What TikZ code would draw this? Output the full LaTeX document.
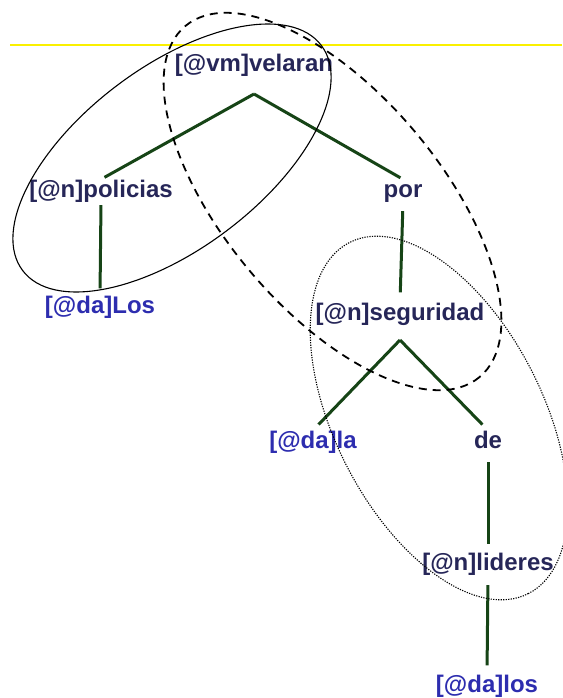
\documentclass[tikz,border=0pt]{standalone}
\usepackage{fontspec}
\setmainfont{Liberation Sans}
\definecolor{nodeink}{RGB}{38,38,88}
\definecolor{detink}{RGB}{45,45,175}
\definecolor{branchgreen}{RGB}{22,68,22}
\definecolor{guideyellow}{RGB}{250,240,0}
\begin{document}
\begin{tikzpicture}[x=1pt,y=-1pt,
  word/.style={font=\fontsize{24}{28}\selectfont\bfseries, text=nodeink,
    inner sep=0pt, anchor=base, text height=17.5pt, text depth=5pt},
  det/.style={word, text=detink},
  branch/.style={draw=branchgreen, line width=3pt},
  groupline/.style={draw=black, line width=1.1pt},
]
\useasboundingbox (0,0) rectangle (562,698);

% guide line
\draw[guideyellow, line width=1.5pt] (10,45) -- (562,45);

% words of the tree
\node[word] (velaran) at (254,72) {[@vm]velaran};
\node[word] (policias) at (101,197) {[@n]policias};
\node[det]  (Los) at (100,313) {[@da]Los};
\node[word] (por) at (403,197) {por};
\node[word] (seguridad) at (400,320) {[@n]seguridad};
\node[det]  (la) at (313,448) {[@da]la};
\node[word] (de) at (488,448) {de};
\node[word] (lideres) at (488,570) {[@n]lideres};
\node[det]  (los) at (487,692) {[@da]los};

% branching points
\coordinate (velaran-fork) at (254,94);
\coordinate (seguridad-fork) at (400,340);

% branches
\draw[branch, shorten >=4pt] (velaran-fork) -- (policias.north);
\draw[branch, shorten >=3pt] (velaran-fork) -- (por.north);
\draw[branch, shorten <=3pt, shorten >=7pt] (policias.south) -- (Los.north);
\draw[branch, shorten <=9pt, shorten >=10pt] (por.south) -- (seguridad.north);
\draw[branch, shorten >=8pt] (seguridad-fork) -- (la.north);
\draw[branch, shorten >=8pt] (seguridad-fork) -- (de.north);
\draw[branch, shorten <=9pt, shorten >=8pt] (de.south) -- (lideres.north);
\draw[branch, shorten <=10pt, shorten >=9pt] (lideres.south) -- (los.north);

% groupings
\draw[groupline, rotate around={37:(172,158)}] (172,158) ellipse [x radius=187, y radius=91];
\draw[groupline, line width=1.8pt, dash pattern=on 8pt off 6pt, rotate around={-50:(332.5,201.5)}]
  (332.5,201.5) ellipse [x radius=229, y radius=108];
\draw[groupline, dash pattern=on 1.2pt off 1.3pt, rotate around={-63:(439,418)}]
  (439,418) ellipse [x radius=197, y radius=104];
\end{tikzpicture}
\end{document}
